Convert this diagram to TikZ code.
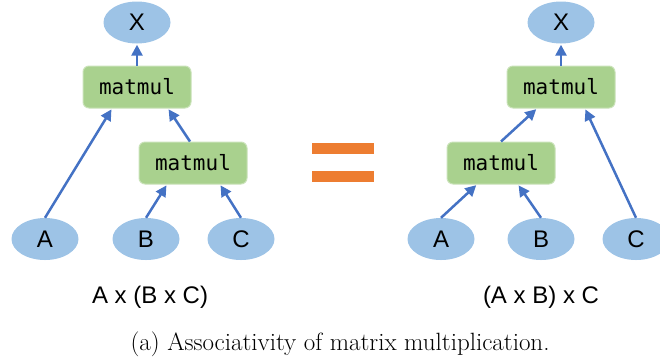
\documentclass[tikz,border=0pt]{standalone}
\usepackage{fontspec}
\newfontfamily\arialf{Liberation Sans}
\newfontfamily\monof{DejaVu Sans Mono}
\usetikzlibrary{shapes.geometric,arrows.meta}
\definecolor{ellfill}{HTML}{9DC3E6}
\definecolor{boxfill}{HTML}{A9D18E}
\definecolor{boxline}{HTML}{C9E2B8}
\definecolor{arrcol}{HTML}{4472C4}
\definecolor{eqcol}{HTML}{ED7D31}
\tikzset{
  var/.style={ellipse, fill=ellfill, minimum width=67pt, minimum height=42pt, inner sep=0pt,
    font=\arialf\fontsize{24}{26}\selectfont},
  op/.style={rectangle, rounded corners=6pt, fill=boxfill, draw=boxline, line width=1pt,
    minimum width=108pt, minimum height=42pt, inner sep=0pt,
    font=\monof\fontsize{21}{24}\selectfont},
  arr/.style={draw=arrcol, line width=2.5pt, -{Triangle[length=11pt,width=11pt]}, shorten >=1pt},
  lbl/.style={font=\arialf\fontsize{24}{26}\selectfont},
  eqbar/.style={fill=eqcol, draw=none},
}
\begin{document}
\begin{tikzpicture}[x=1pt,y=-1pt]
\useasboundingbox (0,0) rectangle (660,360);
% left tree
\node[var] (lX) at (137,22.5) {X};
\node[op] (lm1) at (137,87) {matmul};
\node[op] (lm2) at (193,163) {matmul};
\node[var] (lA) at (45,239) {A};
\node[var] (lB) at (146,239) {B};
\node[var] (lC) at (241,239) {C};
\draw[arr] (lm1.north) -- (lX.south);
\draw[arr] (lA.north) -- ([xshift=-25pt]lm1.south);
\draw[arr] ([xshift=-3pt]lm2.north) -- ([xshift=31pt]lm1.south);
\draw[arr] (lB.north) -- ([xshift=-26pt]lm2.south);
\draw[arr] (lC.north) -- ([xshift=27pt]lm2.south);
% equals sign
\path[eqbar] (312,143) rectangle (374,154);
\path[eqbar] (312,171) rectangle (374,182);
% right tree
\node[var] (rX) at (561,22.5) {X};
\node[op] (rm1) at (561,87) {matmul};
\node[op] (rm2) at (501,163) {matmul};
\node[var] (rA) at (441,239) {A};
\node[var] (rB) at (541,239) {B};
\node[var] (rC) at (636,239) {C};
\draw[arr] (rm1.north) -- (rX.south);
\draw[arr] (rm2.north) -- ([xshift=-24pt]rm1.south);
\draw[arr] (rA.north) -- ([xshift=-24pt]rm2.south);
\draw[arr] (rB.north) -- ([xshift=17pt]rm2.south);
\draw[arr] (rC.north) -- ([xshift=24pt]rm1.south);
% labels
\node[lbl] (lexpr) at (150,297) {A x (B x C)};
\node[lbl] (rexpr) at (541,297) {(A x B) x C};
\node[font=\fontsize{25}{28}\selectfont] (cap) at (340,344) {(a) Associativity of matrix multiplication.};
\end{tikzpicture}
\end{document}
